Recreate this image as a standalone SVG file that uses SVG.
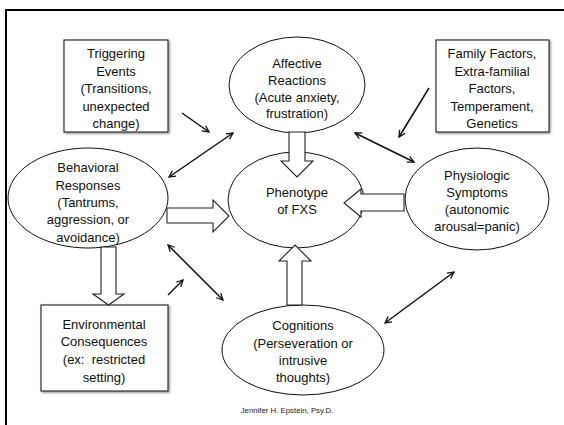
<svg xmlns="http://www.w3.org/2000/svg" width="564" height="425" viewBox="0 0 564 425">
<defs>
<style>
.t{font-family:"Liberation Sans",Arial,sans-serif;font-size:13px;fill:#111;text-anchor:middle;dominant-baseline:central}
.box{fill:#fff;stroke:#333;stroke-width:1.2;filter:url(#sh)}
.el{fill:#fff;stroke:#111;stroke-width:1}
.blk{fill:#fff;stroke:#222;stroke-width:1.1;stroke-linejoin:miter}
.ln{stroke:#111;stroke-width:1.5;fill:none}
.s{marker-end:url(#ah)}
.d{marker-start:url(#ah);marker-end:url(#ah)}
</style>
<filter id="sh" x="-10%" y="-10%" width="125%" height="125%">
<feDropShadow dx="1.2" dy="1.2" stdDeviation="0.8" flood-color="#000" flood-opacity="0.45"/>
</filter>
<marker id="ah" viewBox="0 0 10 10" refX="9" refY="5" markerWidth="8" markerHeight="8" markerUnits="userSpaceOnUse" orient="auto-start-reverse">
<path d="M1,1 L9,5 L1,9" fill="none" stroke="#111" stroke-width="1.6"/>
</marker>
</defs>
<rect width="564" height="425" fill="#fff"/>
<path d="M6,425 V10 H564" fill="none" stroke="#000" stroke-width="2"/>

<g id="triggering">
<rect class="box" x="64" y="40" width="104" height="92"/>
<text class="t" x="116" y="53">Triggering</text>
<text class="t" x="116" y="71">Events</text>
<text class="t" x="116" y="88">(Transitions,</text>
<text class="t" x="116" y="106">unexpected</text>
<text class="t" x="116" y="123">change)</text>
</g>
<g id="family">
<rect class="box" x="436" y="40" width="113" height="92"/>
<text class="t" x="492" y="53">Family Factors,</text>
<text class="t" x="492" y="71">Extra-familial</text>
<text class="t" x="492" y="88">Factors,</text>
<text class="t" x="492" y="106">Temperament,</text>
<text class="t" x="492" y="123">Genetics</text>
</g>
<g id="environmental">
<rect class="box" x="41" y="305" width="127" height="86"/>
<text class="t" x="104" y="324">Environmental</text>
<text class="t" x="104" y="341">Consequences</text>
<text class="t" x="104" y="359" style="white-space:pre">(ex:  restricted</text>
<text class="t" x="104" y="377">setting)</text>
</g>
<g id="affective">
<ellipse class="el" cx="297" cy="85" rx="68" ry="48"/>
<text class="t" x="297" y="63">Affective</text>
<text class="t" x="297" y="80">Reactions</text>
<text class="t" x="297" y="97">(Acute anxiety,</text>
<text class="t" x="297" y="113">frustration)</text>
</g>
<g id="behavioral">
<ellipse class="el" cx="88" cy="198" rx="80" ry="50"/>
<text class="t" x="88" y="167">Behavioral</text>
<text class="t" x="88" y="185">Responses</text>
<text class="t" x="88" y="202">(Tantrums,</text>
<text class="t" x="88" y="219">aggression, or</text>
<text class="t" x="88" y="237">avoidance)</text>
</g>
<g id="phenotype">
<ellipse class="el" cx="296" cy="200" rx="68" ry="48"/>
<text class="t" x="297" y="192">Phenotype</text>
<text class="t" x="297" y="209">of FXS</text>
</g>
<g id="physiologic">
<ellipse class="el" cx="477" cy="199" rx="72" ry="51"/>
<text class="t" x="477" y="175">Physiologic</text>
<text class="t" x="477" y="192">Symptoms</text>
<text class="t" x="477" y="209">(autonomic</text>
<text class="t" x="477" y="226">arousal=panic)</text>
</g>
<g id="cognitions">
<ellipse class="el" cx="303" cy="350" rx="81" ry="45"/>
<text class="t" x="303" y="325">Cognitions</text>
<text class="t" x="303" y="343">(Perseveration or</text>
<text class="t" x="303" y="360">intrusive</text>
<text class="t" x="303" y="377">thoughts)</text>
</g>

<g id="connectors">
<polygon class="blk" points="289,132 305,132 305,161 313,161 297,177 281,161 289,161"/>
<polygon class="blk" points="167,208 213,208 213,200 229,216 213,232 213,223 167,223"/>
<polygon class="blk" points="404,194 361,194 361,189 344,203 361,217 361,211 404,211"/>
<polygon class="blk" points="287,305 287,261 279,261 295,245 311,261 302,261 302,305"/>
<polygon class="blk" points="101,247 101,294 93,294 108.5,305 124,294 116,294 116,247"/>
<line class="ln s" x1="182" y1="113" x2="209" y2="132"/>
<line class="ln d" x1="169" y1="177" x2="233" y2="133"/>
<line class="ln s" x1="429" y1="88" x2="399" y2="137"/>
<line class="ln d" x1="355" y1="133" x2="414" y2="162"/>
<line class="ln d" x1="168" y1="245" x2="223" y2="300"/>
<line class="ln s" x1="168" y1="295" x2="183" y2="280"/>
<line class="ln d" x1="385" y1="323" x2="454" y2="272"/>
</g>
<text x="287" y="413" style="font-family:'Liberation Sans',Arial,sans-serif;font-size:7.8px;fill:#222;text-anchor:middle">Jennifer H. Epstein, Psy.D.</text>
</svg>
